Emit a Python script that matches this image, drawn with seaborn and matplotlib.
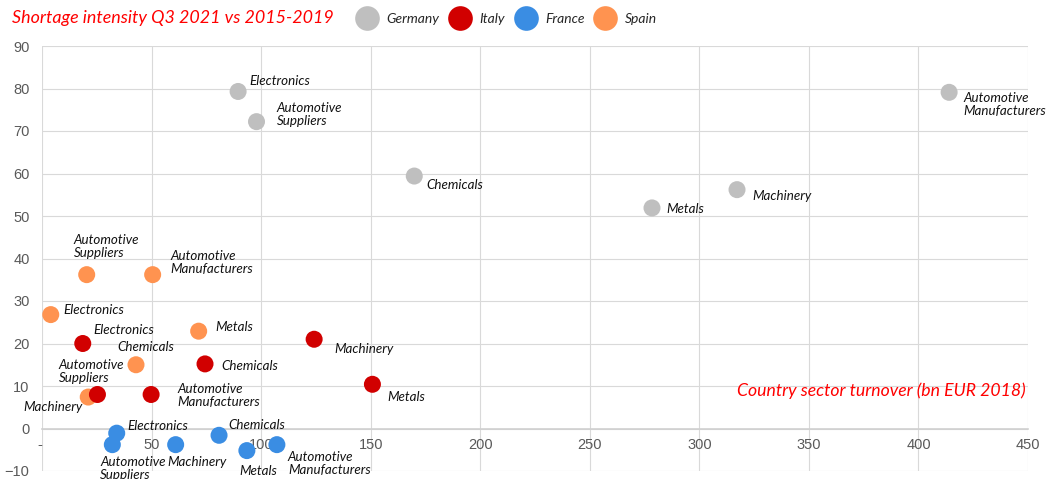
import matplotlib
matplotlib.use("Agg")
import matplotlib.pyplot as plt
import seaborn as sns
import pandas as pd

# ---------------- data ----------------
countries = ["Germany", "Italy", "France", "Spain"]
sectors = ["Electronics", "Automotive\nSuppliers", "Chemicals", "Metals",
           "Machinery", "Automotive\nManufacturers"]

germany_turnover = [89.5, 97.9, 169.9, 278.4, 317.2, 414.0]
germany_shortage = [79.3, 72.2, 59.4, 51.9, 56.2, 79.1]

italy_turnover = [18.6, 25.3, 74.4, 150.8, 124.2, 49.8]
italy_shortage = [20.0, 8.0, 15.2, 10.4, 21.0, 8.0]

france_turnover = [34.1, 32.1, 80.8, 93.5, 61.0, 107.2]
france_shortage = [-1.1, -3.8, -1.6, -5.2, -3.8, -3.8]

spain_turnover = [4.0, 20.4, 42.9, 71.5, 21.1, 50.5]
spain_shortage = [26.8, 36.2, 15.0, 22.9, 7.4, 36.2]

x_ticks = [0, 50, 100, 150, 200, 250, 300, 350, 400, 450]
x_tick_labels = ["- ", "50", "100", "150", "200", "250", "300", "350", "400", "450"]
y_ticks = [-10, 0, 10, 20, 30, 40, 50, 60, 70, 80, 90]

# ---------------- styles / label placement (pixels, y up) ----------------
colors = {"Germany": "#BFBFBF", "Italy": "#D10000", "France": "#3A8DE3", "Spain": "#FF9350"}
label_offsets = {
    "Germany": [(11, 10, "left"), (20, 7, "left"), (12, -9, "left"), (14, -1, "left"),
                (15, -6, "left"), (14, -12, "left")],
    "Italy": [(11, 14, "left"), (-39, 23, "left"), (16, -2, "left"), (15, -13, "left"),
              (20, -10, "left"), (26, -1, "left")],
    "France": [(11, 7, "left"), (-12, -24, "left"), (9, 10, "left"), (-8, -20, "left"),
               (-8, -17, "left"), (11, -19, "left")],
    "Spain": [(13, 5, "left"), (-13, 28, "left"), (-19, 18, "left"), (17, 4, "left"),
              (-6, -10, "right"), (18, 12, "left")],
}

data = {
    "Germany": (germany_turnover, germany_shortage),
    "Italy": (italy_turnover, italy_shortage),
    "France": (france_turnover, france_shortage),
    "Spain": (spain_turnover, spain_shortage),
}

rows = []
for c in ["Germany", "Spain", "France", "Italy"]:  # drawing order
    xs, ys = data[c]
    for s, x, y in zip(sectors, xs, ys):
        rows.append({"country": c, "sector": s, "turnover": x, "shortage": y})
df = pd.DataFrame(rows)

sns.set_theme(style="white")
plt.rcParams["font.family"] = ["Lato", "DejaVu Sans"]

fig = plt.figure(figsize=(10.52, 4.79), dpi=100)
ax = fig.add_axes([42 / 1052, 1 - 471 / 479, 986 / 1052, 425 / 479])

sns.scatterplot(data=df, x="turnover", y="shortage", hue="country", hue_order=countries,
                palette=colors, s=150, linewidth=0, ax=ax, zorder=3)

ax.set_xlim(0, 450)
ax.set_ylim(-10, 90)
ax.set_xticks(x_ticks)
ax.set_xticklabels(x_tick_labels)
ax.set_yticks(y_ticks)
ax.set_xlabel("")
ax.set_ylabel("")
ax.grid(True, color="#D9D9D9", lw=0.8)
ax.set_axisbelow(True)
for sp in ["top", "right", "left"]:
    ax.spines[sp].set_visible(False)
ax.spines["bottom"].set_position(("data", 0))
ax.spines["bottom"].set_color("#D0D0D0")
ax.spines["bottom"].set_linewidth(1.2)
ax.tick_params(axis="both", length=0, colors="#595959", labelsize=10.5)
ax.tick_params(axis="x", pad=7)
ax.tick_params(axis="y", pad=9)
for t in ax.get_xticklabels() + ax.get_yticklabels():
    t.set_family(["Liberation Sans", "DejaVu Sans"])

# point labels
for c in countries:
    xs, ys = data[c]
    for s, x, y, (dx, dy, ha) in zip(sectors, xs, ys, label_offsets[c]):
        ax.annotate(s, (x, y), xytext=(dx, dy), textcoords="offset pixels",
                    ha=ha, va="center", fontsize=9.6, style="italic", color="#111111",
                    multialignment="left", linespacing=1.1, zorder=4, annotation_clip=False)

ax.text(0.998, 0.188, "Country sector turnover (bn EUR 2018)", transform=ax.transAxes,
        ha="right", va="center", color="#FF0000", fontsize=12.7, style="italic")

fig.text(12 / 1052, 1 - 18 / 479, "Shortage intensity Q3 2021 vs 2015-2019", ha="left",
         va="center", color="#FF0000", fontsize=12.9, style="italic")

sns.move_legend(ax, "center left", bbox_to_anchor=(343 / 1052, 1 - 19 / 479),
                bbox_transform=fig.transFigure, ncol=4, title=None, frameon=False,
                markerscale=1.45, handlelength=1.6, handletextpad=0.6, columnspacing=0.7,
                fontsize=10)
for t in ax.get_legend().get_texts():
    t.set_style("italic")

fig.savefig("out.png", dpi=100)
